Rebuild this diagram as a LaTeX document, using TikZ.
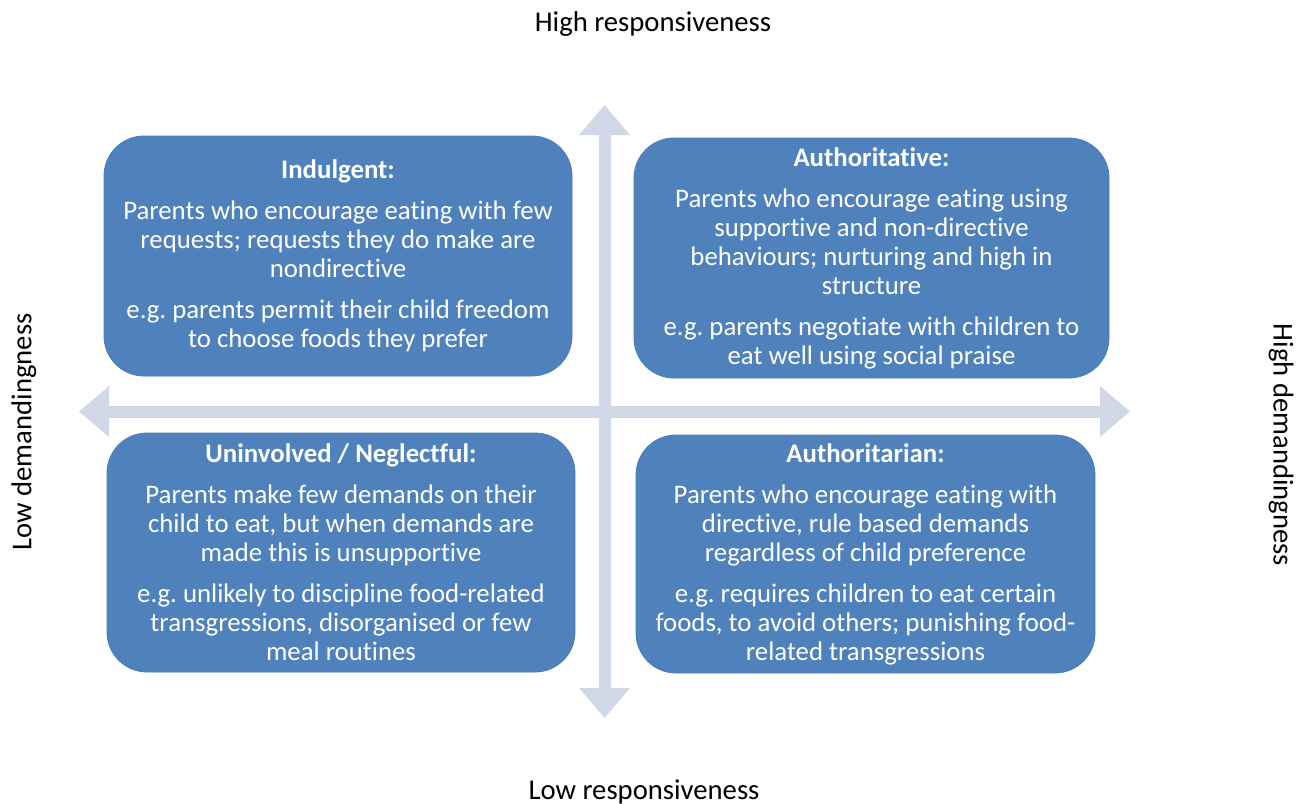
\documentclass[tikz,border=0pt]{standalone}
\usepackage{fontspec}
\setmainfont{Carlito}[RawFeature=-liga]
\frenchspacing
\usetikzlibrary{arrows.meta}
\definecolor{boxblue}{RGB}{79,129,189}
\definecolor{boxedge}{RGB}{74,124,184}
\definecolor{axisgrey}{RGB}{208,215,231}
\tikzset{
  quad/.style={fill=boxblue, draw=boxedge, line width=0.6pt, rounded corners=30pt,
    text=white, align=center, inner sep=0pt,
    font=\fontsize{20.1}{21.75}\selectfont},
  axisline/.style={draw=axisgrey, line width=9pt,
    {Triangle[width=36.75pt,length=22.5pt]}-{Triangle[width=36.75pt,length=22.5pt]}},
  axislabel/.style={font=\fontsize{21.5}{24}\selectfont, text=black, inner sep=0pt}
}
\begin{document}
\begin{tikzpicture}[x=0.75pt,y=-0.75pt]
\useasboundingbox (0,0) rectangle (1305,803);
\fill[white] (0,0) rectangle (1305,803);

% axes
\coordinate (top) at (604.5,105);
\coordinate (bot) at (604.5,718);
\coordinate (lft) at (79,411.5);
\coordinate (rgt) at (1130,411.5);
\draw[axisline] (lft) -- (rgt);
\draw[axisline] (bot) -- (top);

% quadrants
\node[quad, minimum width=351pt, minimum height=180pt] (indulgent) at (338,256)
 {\textbf{Indulgent:}\\[9pt]
  Parents who encourage eating with few\\
  requests; requests they do make are\\
  nondirective\\[9pt]
  e.g. parents permit their child freedom\\
  to choose foods they prefer};

\node[quad, minimum width=356.25pt, minimum height=180pt] (authoritative) at (871.5,258)
 {\textbf{Authoritative:}\\[9pt]
  Parents who encourage eating using\\
  supportive and non-directive\\
  behaviours; nurturing and high in\\
  structure\\[9pt]
  e.g. parents negotiate with children to\\
  eat well using social praise};

\node[quad, minimum width=351pt, minimum height=179.25pt] (uninvolved) at (341,552.5)
 {\textbf{Uninvolved / Neglectful:}\\[9pt]
  Parents make few demands on their\\
  child to eat, but when demands are\\
  made this is unsupportive\\[9pt]
  e.g. unlikely to discipline food-related\\
  transgressions, disorganised or few\\
  meal routines};

\node[quad, minimum width=344.25pt, minimum height=178.5pt] (authoritarian) at (865.5,554)
 {\textbf{Authoritarian:}\\[9pt]
  Parents who encourage eating with\\
  directive, rule based demands\\
  regardless of child preference\\[9pt]
  e.g. requires children to eat certain\\
  foods, to avoid others; punishing food-\\
  related transgressions};

% axis labels
\node[axislabel] (hiresp) at (653,24) {High responsiveness};
\node[axislabel] (loresp) at (644,792) {Low responsiveness};
\node[axislabel, rotate=90] (lodem) at (24,432) {Low demandingness};
\node[axislabel, rotate=-90] (hidem) at (1281,445) {High demandingness};
\end{tikzpicture}
\end{document}
